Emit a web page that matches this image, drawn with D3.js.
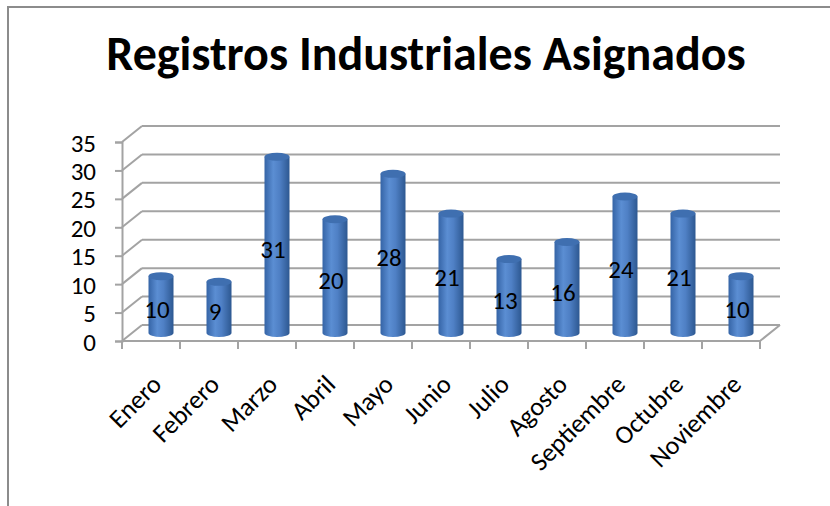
<!doctype html>
<html>
<head>
    <title>Registros Industriales Asignados</title>
    <script src='https://d3js.org/d3.v7.min.js'></script>
    <style>
        body { margin: 0; background: #fff; }
        text { font-family: Carlito, Lato, 'Open Sans', sans-serif; }
    </style>
</head>
<body>
<svg></svg>
</body>
<script>

    // data
    var months = ['Enero', 'Febrero', 'Marzo', 'Abril', 'Mayo', 'Junio', 'Julio',
        'Agosto', 'Septiembre', 'Octubre', 'Noviembre'];
    var registros = [10, 9, 31, 20, 28, 21, 13, 16, 24, 21, 10];
    var yTicks = [0, 5, 10, 15, 20, 25, 30, 35];

    var svgWidth = 830, svgHeight = 506;
    var depthX = 20, depthY = -16;   // 3d back wall offset

    var svg = d3.select('svg')
        .attr('width', svgWidth)
        .attr('height', svgHeight);

    // outer frame (only top and left visible)
    svg.append('path')
        .attr('d', 'M8,' + svgHeight + ' L8,7 L' + svgWidth + ',7')
        .attr('fill', 'none')
        .attr('stroke', '#8c8c8c')
        .attr('stroke-width', 2);

    svg.append('text')
        .attr('x', 426)
        .attr('y', 70)
        .attr('text-anchor', 'middle')
        .style('font-size', '48px')
        .style('font-weight', 'bold')
        .text('Registros Industriales Asignados');

    var xScale = d3.scaleBand()
        .domain(months)
        .range([122, 760]);

    var yScale = d3.scaleLinear()
        .domain([0, 35])
        .range([341, 142]);

    var grid = svg.append('g')
        .attr('stroke', '#a3a3a3')
        .attr('stroke-width', 2)
        .attr('fill', 'none');

    // back wall gridlines
    grid.selectAll('.back')
        .data(yTicks)
        .enter()
        .append('line')
        .attr('x1', 122 + depthX)
        .attr('x2', 760 + depthX)
        .attr('y1', function (d) { return yScale(d) + depthY; })
        .attr('y2', function (d) { return yScale(d) + depthY; });

    // side wall diagonals
    grid.selectAll('.side')
        .data(yTicks)
        .enter()
        .append('line')
        .attr('x1', 122)
        .attr('x2', 122 + depthX)
        .attr('y1', function (d) { return yScale(d); })
        .attr('y2', function (d) { return yScale(d) + depthY; });

    // floor front edge and right edge
    grid.append('path')
        .attr('d', 'M122,' + yScale(0) + ' L760,' + yScale(0) +
            ' L' + (760 + depthX) + ',' + (yScale(0) + depthY));

    // y axis
    var y_axis = d3.axisLeft(yScale)
        .tickValues(yTicks)
        .tickSize(7)
        .tickPadding(19);

    var yAxisG = svg.append('g')
        .attr('transform', 'translate(122,0)')
        .call(y_axis);
    yAxisG.select('.domain').attr('stroke', '#a3a3a3').attr('stroke-width', 2);
    yAxisG.selectAll('.tick line').attr('stroke', '#a3a3a3').attr('stroke-width', 2);
    yAxisG.selectAll('.tick text')
        .style('font-size', '25px')
        .attr('fill', '#000')
        .attr('dy', '0.36em');

    // x axis ticks on the category boundaries
    var xTickPos = months.map(function (m) { return xScale(m); }).concat([760]);
    grid.selectAll('.xtick')
        .data(xTickPos)
        .enter()
        .append('line')
        .attr('x1', function (d) { return d; })
        .attr('x2', function (d) { return d; })
        .attr('y1', yScale(0))
        .attr('y2', yScale(0) + 8);

    // gradient for cylinders
    var defs = svg.append('defs');
    var grad = defs.append('linearGradient')
        .attr('id', 'cyl')
        .attr('x1', '0%').attr('x2', '100%')
        .attr('y1', '0%').attr('y2', '0%');
    grad.append('stop').attr('offset', '0%').attr('stop-color', '#3564a6');
    grad.append('stop').attr('offset', '35%').attr('stop-color', '#5b8ed3');
    grad.append('stop').attr('offset', '60%').attr('stop-color', '#4f80c5');
    grad.append('stop').attr('offset', '100%').attr('stop-color', '#2d5891');

    var barWidth = 25, ry = 4;
    function cx(d, i) { return xScale(months[i]) + xScale.bandwidth() / 2 + depthX / 2; }
    function yMid(v) { return yScale(v) + depthY / 2; }

    var bars = svg.selectAll('.bar')
        .data(registros)
        .enter()
        .append('g')
        .attr('class', 'bar');

    bars.append('path')
        .attr('fill', 'url(#cyl)')
        .attr('d', function (d, i) {
            var x0 = cx(d, i) - barWidth / 2, x1 = cx(d, i) + barWidth / 2;
            var yt = yMid(d), yb = yMid(0);
            return 'M' + x0 + ',' + yt + ' L' + x0 + ',' + yb +
                ' A' + (barWidth / 2) + ',' + ry + ' 0 0 0 ' + x1 + ',' + yb +
                ' L' + x1 + ',' + yt + ' Z';
        });

    bars.append('ellipse')
        .attr('cx', cx)
        .attr('cy', function (d) { return yMid(d); })
        .attr('rx', barWidth / 2)
        .attr('ry', ry)
        .attr('fill', '#3f6fb0');

    // data labels
    svg.selectAll('.label')
        .data(registros)
        .enter()
        .append('text')
        .attr('x', function (d, i) { return cx(d, i) - 4; })
        .attr('y', function (d) { return (yMid(d) + yMid(0)) / 2 + 4; })
        .attr('dy', '0.36em')
        .attr('text-anchor', 'middle')
        .style('font-size', '25px')
        .text(function (d) { return d; });

    // month labels rotated
    svg.selectAll('.month')
        .data(months)
        .enter()
        .append('text')
        .attr('text-anchor', 'end')
        .style('font-size', '26px')
        .attr('transform', function (d) {
            var x = xScale(d) + xScale.bandwidth() / 2 + 12, y = 386;
            return 'translate(' + x + ',' + y + ') rotate(-45)';
        })
        .text(function (d) { return d; });

</script>
</html>
